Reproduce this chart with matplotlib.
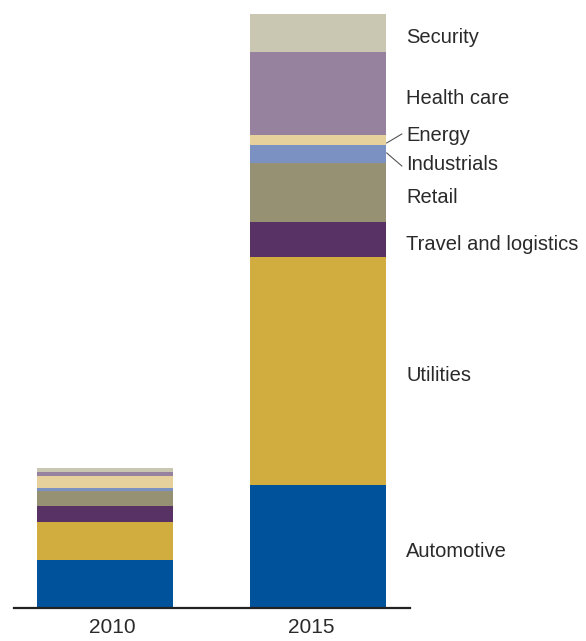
import numpy as np
import matplotlib
matplotlib.use("Agg")
import matplotlib.pyplot as plt

plt.rcParams['font.family'] = ['Liberation Sans', 'DejaVu Sans']

# ---------------- DATA ----------------
years = ["2010", "2015"]
segments = ["Automotive", "Utilities", "Travel and logistics", "Retail",
            "Industrials", "Energy", "Health care", "Security"]
vals_2010 = [48, 38, 16, 15, 3, 12, 4, 4]
vals_2015 = [123, 228, 35, 59, 18, 10, 83, 38]
colors = ["#00529B", "#D1AC3F", "#583264", "#969173",
          "#7B91C2", "#E6D09C", "#96829E", "#C9C6B2"]

# ---------------- PLOT ----------------
fig = plt.figure(figsize=(5.86, 6.41), dpi=100)
ax = fig.add_axes([0.0239, 0.0515, 0.676, 0.9267])

x = np.arange(len(years))
width = 0.638
data = np.array([vals_2010, vals_2015])
bottoms = np.zeros(len(years))
for i, seg in enumerate(segments):
    ax.bar(x, data[:, i], width, bottom=bottoms, color=colors[i], linewidth=0)
    bottoms += data[:, i]

ax.set_xlim(-0.427, 1.432)
ax.set_ylim(0, data[1].sum())

# labels next to 2015 bar
label_x = x[1] + 0.413
offsets = {"Energy": 9, "Industrials": -6}
cum = np.cumsum(vals_2015) - np.array(vals_2015) / 2
edge = x[1] + width / 2
for seg, c in zip(segments, cum):
    y = c - 5 + offsets.get(seg, 0)
    ax.text(label_x, y, seg, fontsize=14.5, color="#2a2a2a",
            va="center", ha="left", clip_on=False)
    if seg in offsets:
        start = c - 3 if seg == "Energy" else c + 1
        ax.plot([edge + 0.003, label_x - 0.02], [start, y + (2 if seg == "Energy" else -1)],
                color="#555555", lw=0.8, clip_on=False)

for s in ["top", "right", "left"]:
    ax.spines[s].set_visible(False)
ax.spines["bottom"].set_linewidth(1.6)
ax.spines["bottom"].set_color("#222222")
ax.set_yticks([])
ax.set_xticks(x + np.array([0.035, -0.033]))
ax.set_xticklabels(years, fontsize=15, color="#2a2a2a")
ax.tick_params(axis="x", length=0, pad=7)

plt.savefig("out.png", dpi=100)
